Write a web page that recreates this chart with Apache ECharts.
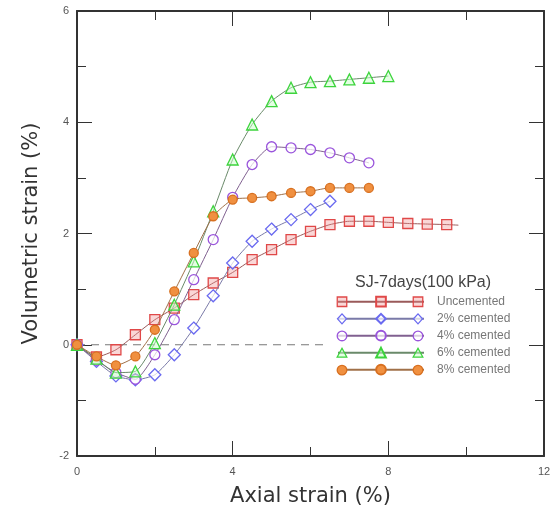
<!DOCTYPE html>
<html>
<head>
<meta charset="UTF-8">
<title>Volumetric strain</title>
<script src="https://cdn.jsdelivr.net/npm/echarts@6/dist/echarts.min.js"></script>
<style>
  html, body { margin: 0; padding: 0; background: #fff; }
  #main { width: 560px; height: 512px; }
</style>
</head>
<body>
<div id="main"></div>
<script type="text/javascript">
// axial strain (%) for every reading, step 0.5
var strain = [0, 0.5, 1, 1.5, 2, 2.5, 3, 3.5, 4, 4.5, 5, 5.5, 6, 6.5, 7, 7.5, 8, 8.5, 9, 9.5];

// volumetric strain (%)
var uncemented = [0, -0.22, -0.09, 0.18, 0.45, 0.66, 0.9, 1.11, 1.3, 1.53, 1.71, 1.89, 2.04, 2.16, 2.22, 2.22, 2.2, 2.18, 2.17, 2.16];
var uncementedTail = [9.8, 2.15];
var cem2 = [0, -0.3, -0.56, -0.63, -0.54, -0.18, 0.3, 0.88, 1.47, 1.86, 2.08, 2.25, 2.43, 2.58];
var cem4 = [0, -0.28, -0.5, -0.62, -0.18, 0.45, 1.17, 1.89, 2.65, 3.24, 3.56, 3.54, 3.51, 3.45, 3.36, 3.27];
var cem6 = [0, -0.25, -0.5, -0.48, 0.03, 0.72, 1.5, 2.4, 3.33, 3.96, 4.38, 4.62, 4.72, 4.74, 4.77, 4.8, 4.83];
var cem8 = [0, -0.21, -0.37, -0.21, 0.27, 0.96, 1.65, 2.31, 2.61, 2.64, 2.67, 2.73, 2.76, 2.82, 2.82, 2.82];

var names = ['Uncemented', '2% cemented', '4% cemented', '6% cemented', '8% cemented'];
var zeroLineX = [0, 6.4];

var xTicks = { min: 0, max: 12, interval: 4 };
var yTicks = { min: -2, max: 6, interval: 2 };

function pairs(vals) {
	var out = [];
	for (var i = 0; i < vals.length; i++) {
		out.push([strain[i], vals[i]]);
	}
	return out;
}

// marker styles for each series
var looks = [
	{ symbol: 'rect', size: 10, stroke: '#e04848', fill: 'rgba(240,140,140,0.35)', line: '#9a5a5a' },
	{ symbol: 'diamond', size: 12, stroke: '#6a6af0', fill: 'rgba(255,255,255,0.7)', line: '#7a7aa8' },
	{ symbol: 'circle', size: 10, stroke: '#9a55dc', fill: 'rgba(255,255,255,0.7)', line: '#806090' },
	{ symbol: 'triangle', size: 11, stroke: '#3cd43c', fill: 'rgba(200,255,200,0.5)', line: '#6a8a6a' },
	{ symbol: 'circle', size: 9, stroke: '#d87020', fill: '#f09040', line: '#a07048' }
];

var seriesData = [pairs(uncemented).concat([{ value: uncementedTail, symbol: 'none' }]),
	pairs(cem2), pairs(cem4), pairs(cem6), pairs(cem8)];

var series = [];
for (var k = 0; k < names.length; k++) {
	series.push({
		name: names[k],
		type: 'line',
		smooth: 0.2,
		symbol: looks[k].symbol,
		symbolSize: looks[k].size,
		data: seriesData[k],
		lineStyle: { color: looks[k].line, width: 1 },
		itemStyle: { color: looks[k].fill, borderColor: looks[k].stroke, borderWidth: 1.3 },
		emphasis: { disabled: true },
		z: 3 + k
	});
}
series.push({
	name: 'zero',
	type: 'line',
	data: [[zeroLineX[0], 0], [zeroLineX[1], 0]],
	symbol: 'none',
	lineStyle: { color: '#777', width: 1, type: [8, 6] },
	z: 1
});

// extra end markers of the legend samples (the legend itself draws the middle one)
var graphics = [];
var rowTop = 301.75, rowStep = 17.1;
var ends = [342, 418];
for (var r = 0; r < looks.length; r++) {
	var cy = rowTop + r * rowStep;
	for (var e = 0; e < ends.length; e++) {
		var cx = ends[e];
		var st = { fill: looks[r].fill, stroke: looks[r].stroke, lineWidth: 1.3 };
		var s = looks[r].symbol;
		if (s === 'rect') {
			graphics.push({ type: 'rect', shape: { x: cx - 4.75, y: cy - 4.75, width: 9.5, height: 9.5 }, style: st, z: 10 });
		} else if (s === 'diamond') {
			graphics.push({ type: 'polygon', shape: { points: [[cx, cy - 5], [cx + 4.5, cy], [cx, cy + 5], [cx - 4.5, cy]] }, style: st, z: 10 });
		} else if (s === 'triangle') {
			graphics.push({ type: 'polygon', shape: { points: [[cx, cy - 4.8], [cx + 4.8, cy + 4], [cx - 4.8, cy + 4]] }, style: st, z: 10 });
		} else {
			graphics.push({ type: 'circle', shape: { cx: cx, cy: cy, r: 4.8 }, style: st, z: 10 });
		}
	}
}

var axisLine = { show: true, onZero: false, lineStyle: { color: '#333', width: 2 } };
var tick = { show: true, inside: true, length: 15, lineStyle: { color: '#333', width: 1 } };
var minor = { show: true, splitNumber: 2, length: 9, lineStyle: { color: '#333', width: 1 } };
var labelStyle = { color: '#555', fontSize: 11, fontFamily: 'Liberation Sans' };
var nameStyle = { color: '#333', fontSize: 21, fontFamily: 'DejaVu Sans' };

var myChart = echarts.init(document.getElementById('main'));
myChart.setOption({
	animation: false,
	backgroundColor: '#fff',
	title: {
		text: 'SJ-7days(100 kPa)',
		left: 355,
		top: 275,
		padding: 0,
		textStyle: { color: '#444', fontSize: 16, fontWeight: 'normal', fontFamily: 'Liberation Sans' }
	},
	legend: {
		data: names,
		orient: 'vertical',
		left: 337,
		top: 295.7,
		padding: 0,
		itemWidth: 86,
		itemHeight: 12.1,
		itemGap: 5,
		selectedMode: false,
		textStyle: { color: '#777', fontSize: 12, fontFamily: 'Liberation Sans', padding: [0, 0, 0, 8] }
	},
	grid: { left: 77, right: 16, top: 11, bottom: 56 },
	xAxis: [{
		type: 'value',
		min: xTicks.min, max: xTicks.max, interval: xTicks.interval,
		name: 'Axial strain (%)',
		nameLocation: 'middle',
		nameGap: 30,
		nameTextStyle: nameStyle,
		axisLine: axisLine,
		axisTick: tick,
		minorTick: minor,
		splitLine: { show: false },
		axisLabel: Object.assign({ margin: 10 }, labelStyle)
	}, {
		type: 'value',
		position: 'top',
		min: xTicks.min, max: xTicks.max, interval: xTicks.interval,
		axisLine: axisLine,
		axisTick: tick,
		minorTick: minor,
		splitLine: { show: false },
		axisLabel: { show: false }
	}],
	yAxis: [{
		type: 'value',
		min: yTicks.min, max: yTicks.max, interval: yTicks.interval,
		name: 'Volumetric strain (%)',
		nameLocation: 'middle',
		nameGap: 35,
		nameTextStyle: nameStyle,
		axisLine: axisLine,
		axisTick: tick,
		minorTick: minor,
		splitLine: { show: false },
		axisLabel: Object.assign({ margin: 8 }, labelStyle)
	}, {
		type: 'value',
		position: 'right',
		min: yTicks.min, max: yTicks.max, interval: yTicks.interval,
		axisLine: axisLine,
		axisTick: tick,
		minorTick: minor,
		splitLine: { show: false },
		axisLabel: { show: false }
	}],
	graphic: graphics,
	series: series
});
</script>
</body>
</html>
